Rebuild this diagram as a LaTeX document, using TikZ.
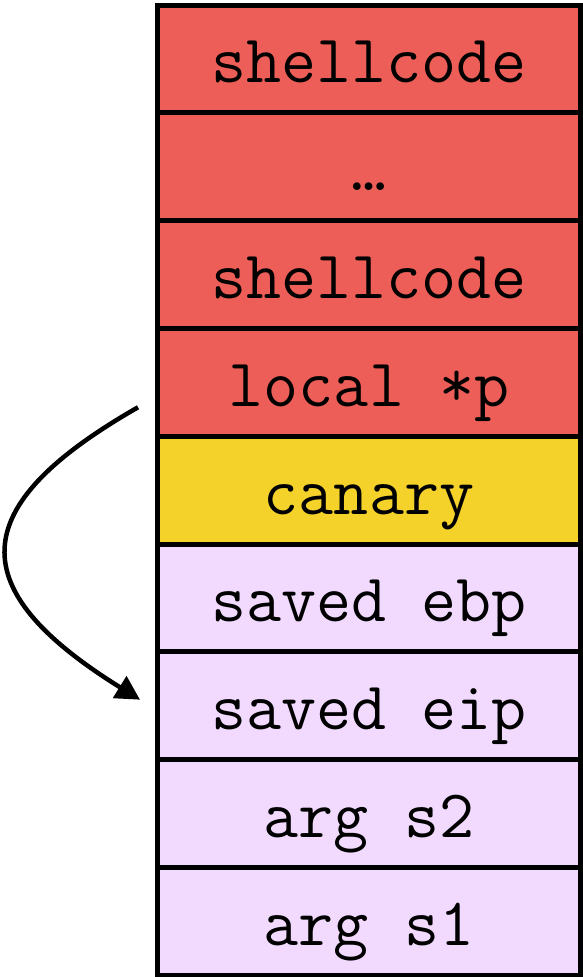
\documentclass[tikz,border=0pt]{standalone}
\usetikzlibrary{matrix, positioning, arrows.meta}

\definecolor{smashred}{RGB}{236,94,87}
\definecolor{canaryyellow}{RGB}{244,210,42}
\definecolor{framelilac}{RGB}{241,218,254}

\begin{document}
\begin{tikzpicture}[x=1pt, y=-1pt]
\useasboundingbox (0,0) rectangle (583,977);

\matrix (m) [matrix of nodes, anchor=north west, at={(155.5,2.5)},
inner sep=0, outer sep=0, row sep=-5pt, column sep=0,
nodes={draw, line width=5pt, outer sep=0, inner sep=0,
minimum width=422pt, minimum height=107.8pt,
font=\fontsize{68}{72}\selectfont\ttfamily,
text height=60pt, text depth=12pt},
row 1/.style={nodes={fill=smashred}},
row 2/.style={nodes={fill=smashred}},
row 3/.style={nodes={fill=smashred}},
row 4/.style={nodes={fill=smashred}},
row 5/.style={nodes={fill=canaryyellow}},
row 6/.style={nodes={fill=framelilac}},
row 7/.style={nodes={fill=framelilac}},
row 8/.style={nodes={fill=framelilac}},
row 9/.style={nodes={fill=framelilac}}] {

shellcode \\
… \\
shellcode \\
local *p \\
canary \\
saved ebp \\
saved eip \\
arg s2 \\
arg s1 \\
};

\coordinate (src) at ([xshift=-20pt, yshift=-25pt]m-4-1.west);
\coordinate (dst) at ([xshift=-18pt, yshift=6pt]m-7-1.west);
\draw[-{Triangle[length=24pt, width=25pt]}, line width=4.5pt]
(src) .. controls +(-175,100) and +(-177,-110) .. (dst);

\end{tikzpicture}
\end{document}
